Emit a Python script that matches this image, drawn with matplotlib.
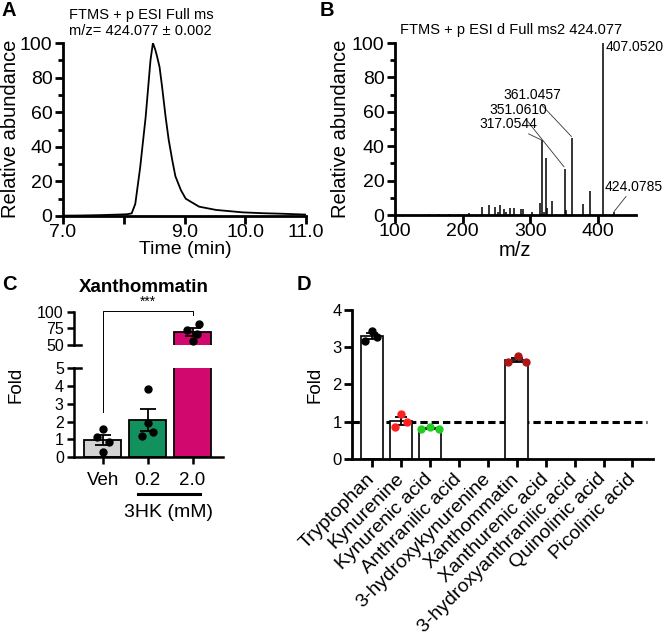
import matplotlib
matplotlib.use('Agg')
import matplotlib.pyplot as plt
import matplotlib.transforms as mtransforms
from matplotlib.lines import Line2D
import numpy as np

plt.rcParams['font.family'] = ['Liberation Sans', 'DejaVu Sans']

W, H = 666, 640

# ---------------- data ----------------
# Panel A: extracted ion chromatogram
time_min = [7.0, 7.3, 7.6, 7.9, 8.05, 8.13, 8.19, 8.27, 8.36, 8.44, 8.48, 8.52,
            8.55, 8.59, 8.63, 8.69, 8.74, 8.80, 8.85, 8.94, 9.02, 9.24, 9.52,
            9.96, 10.3, 10.62, 11.0]
rel_abund_a = [0.2, 0.3, 0.5, 0.8, 1.0, 1.5, 7, 28, 57, 90, 100, 96,
               92, 86, 75, 57, 44, 32, 23, 15, 10, 5.4, 3.5,
               2.1, 1.6, 1.3, 0.8]

# Panel B: MS2 spectrum
mz = [150, 165, 180, 195, 209, 228.6, 238.3, 247.6, 252.0, 255.6, 260.4, 263.3,
      270.6, 275.1, 286.6, 289.6, 302.2, 314.5, 317.0544, 320.4, 322.9, 324.6,
      332.6, 351.0610, 352.6, 361.0457, 378.4, 388.6, 407.0520, 424.0785]
rel_abund_b = [0.4, 0.3, 0.5, 0.4, 1.0, 4.8, 5.8, 4.5, 2.0, 5.8, 3.5, 2.0,
               4.0, 4.0, 3.5, 3.5, 1.5, 7.0, 43.5, 2.0, 33.2, 4.0,
               8.2, 26.7, 3.0, 45.0, 6.2, 13.8, 100.0, 1.5]
peak_labels = ['407.0520', '361.0457', '351.0610', '317.0544', '424.0785']

# Panel C: Xanthommatin fold
c_groups = ['Veh', '0.2', '2.0']
c_veh = [1.6, 1.15, 0.85, 0.3]
c_low = [3.85, 1.9, 1.2, 1.4]
c_high = [82, 73, 67, 56]

# Panel D: kynurenine pathway metabolites
metabolites = ['Tryptophan', 'Kynurenine', 'Kynurenic acid', 'Anthranilic acid',
               '3-hydroxykynurenine', 'Xanthommatin', 'Xanthurenic acid',
               '3-hydroxyanthranilic acid', 'Quinolinic acid', 'Picolinic acid']
d_values = [[3.42, 3.15, 3.27], [1.21, 0.85, 1.0], [0.79, 0.85, 0.80], [], [],
            [2.60, 2.76, 2.60], [], [], [], []]

# ---------------- helpers ----------------
def px_axes(fig, l, t, r, b):
    return fig.add_axes([l / W, 1 - b / H, (r - l) / W, (b - t) / H])

def style(ax, lw=2.0):
    for s in ['top', 'right']:
        ax.spines[s].set_visible(False)
    for s in ['left', 'bottom']:
        ax.spines[s].set_linewidth(lw)
    ax.tick_params(which='major', direction='out', width=lw, length=5.5, pad=2)
    ax.tick_params(which='minor', direction='out', width=lw, length=3.5)

def ftext(x, y, s, **kw):
    fig.text(x / W, 1 - y / H, s, **kw)

def sem(v):
    v = np.asarray(v, float)
    return v.std(ddof=1) / np.sqrt(len(v))

fig = plt.figure(figsize=(W / 100, H / 100), dpi=100)

# ---------------- Panel A ----------------
axA = px_axes(fig, 63, 43, 306, 216)
style(axA)
axA.plot(time_min, rel_abund_a, color='black', lw=1.3)
axA.set_xlim(7, 11)
axA.set_ylim(0, 100)
axA.set_xticks([7, 8, 9, 10, 11])
axA.set_xticklabels(['7.0', '', '9.0', '10.0', '11.0'])
axA.set_yticks([0, 20, 40, 60, 80, 100])
axA.set_yticks(np.arange(10, 100, 20), minor=True)
axA.tick_params(labelsize=14)
axA.tick_params(axis='x', pad=0)
ftext(69, 15, 'FTMS + p ESI Full ms', fontsize=10.5, ha='left', va='center')
ftext(69, 31, 'm/z= 424.077 ± 0.002', fontsize=10.5, ha='left', va='center')
ftext(185, 249, 'Time (min)', fontsize=14, ha='center', va='center')
ftext(11, 129, 'Relative abundance', fontsize=14.5, ha='center', va='center', rotation=90)

# ---------------- Panel B ----------------
axB = px_axes(fig, 395, 43, 636, 215)
style(axB)
axB.vlines(mz, 0, rel_abund_b, color='black', lw=1.1)
axB.set_xlim(100, 456)
axB.set_ylim(0, 100)
axB.set_xticks([100, 200, 300, 400])
axB.set_yticks([0, 20, 40, 60, 80, 100])
axB.set_yticks(np.arange(10, 100, 20), minor=True)
axB.tick_params(labelsize=14)
axB.tick_params(axis='x', pad=0)
ann_kw = dict(fontsize=10, color='black', annotation_clip=False,
              arrowprops=dict(arrowstyle='-', lw=0.6, color='#333333', shrinkA=0, shrinkB=0))
axB.text(410.5, 97.5, peak_labels[0], fontsize=10, ha='left', va='center')
axB.annotate(peak_labels[1], xy=(360.7, 45.6), xytext=(345.5, 69.8), ha='right', va='center', **ann_kw)
axB.annotate(peak_labels[2], xy=(349.7, 28), xytext=(325.2, 61), ha='right', va='center', **ann_kw)
axB.annotate(peak_labels[3], xy=(316.8, 43.5), xytext=(309.8, 52.9), ha='right', va='center', **ann_kw)
axB.annotate(peak_labels[4], xy=(423.6, 2.0), xytext=(409.9, 16.5), ha='left', va='center', **ann_kw)
ftext(511, 30, 'FTMS + p ESI d Full ms2 424.077', fontsize=10.5, ha='center', va='center')
ftext(515, 250, 'm/z', fontsize=14.5, ha='center', va='center')
ftext(341, 129, 'Relative abundance', fontsize=14.5, ha='center', va='center', rotation=90)

# ---------------- Panel C ----------------
c_colors = ['#d3d3d3', '#12915f', '#d1086e']
c_sets = [c_veh, c_low, c_high]
c_jit = [[0, -0.13, 0.14, 0], [0, 0, -0.13, 0.13], [0.14, -0.13, 0.09, 0]]
xs = np.arange(len(c_groups))
means = [np.mean(v) for v in c_sets]
sems = [sem(v) for v in c_sets]

axCl = px_axes(fig, 73.5, 368.3, 222.7, 457)
axCu = px_axes(fig, 73.5, 311.7, 222.7, 345)
for ax in (axCl, axCu):
    style(ax, lw=1.8)
    ax.set_xlim(-0.65, 2.67)
    ax.tick_params(labelsize=11.5, length=5)
    ax.bar(xs, means, width=0.82, color=c_colors, edgecolor='black', lw=1.3, zorder=2)
axCl.set_ylim(0, 5)
axCl.set_yticks([0, 1, 2, 3, 4, 5])
axCl.set_xticks(xs)
axCl.set_xticklabels(c_groups, fontsize=13.5)
axCl.tick_params(axis='x', pad=6)
axCu.set_ylim(50, 100)
axCu.set_yticks([50, 75, 100])
axCu.spines['bottom'].set_visible(False)
axCu.set_xticks([])
for i in range(2):
    axCl.errorbar(xs[i], means[i], yerr=sems[i], color='black', lw=1.3, capsize=5.5, capthick=1.3, zorder=3)
    axCl.plot(xs[i] + np.array(c_jit[i]), c_sets[i], 'o', color='black', ms=5, zorder=4, clip_on=False)
axCu.errorbar(xs[2], means[2], yerr=sems[2], color='black', lw=1.3, capsize=5.5, capthick=1.3, zorder=3)
axCu.plot(xs[2] + np.array(c_jit[2]), c_sets[2], 'o', color='black', ms=5, zorder=4, clip_on=False)
# break markers
bl = mtransforms.blended_transform_factory(axCl.transAxes, axCl.transData)
axCl.plot([0, 0.05], [5, 5], color='black', lw=1.8, transform=bl, clip_on=False)
bu = mtransforms.blended_transform_factory(axCu.transAxes, axCu.transData)
axCu.plot([0, 0.05], [50, 50], color='black', lw=1.8, transform=bu, clip_on=False)

# significance bracket
def to_fig(ax, x, y):
    return fig.transFigure.inverted().transform(ax.transData.transform((x, y)))
p1 = to_fig(axCl, 0, 2.55)
p2 = to_fig(axCu, 0, 100.8)
p3 = to_fig(axCu, 2, 100.8)
p4 = to_fig(axCu, 2, 95.5)
fig.add_artist(Line2D([p1[0], p2[0], p3[0], p4[0]], [p1[1], p2[1], p3[1], p4[1]],
                      transform=fig.transFigure, color='black', lw=0.7))
pm = to_fig(axCu, 1, 100.8)
fig.text(pm[0], pm[1] + 2 / H, '***', fontsize=10, ha='center', va='bottom')

# x group label
bx = mtransforms.blended_transform_factory(axCl.transData, axCl.transAxes)
axCl.plot([0.78, 2.16], [-0.417, -0.417], color='black', lw=2.2, transform=bx, clip_on=False)
axCl.text(1.47, -0.628, '3HK (mM)', fontsize=14, ha='center', va='center', transform=bx)
ftext(144, 287, 'Xanthommatin', fontsize=13.5, fontweight='bold', ha='center', va='center')
ftext(16, 385, 'Fold', fontsize=13.5, ha='center', va='center', rotation=90)

# ---------------- Panel D ----------------
d_colors = ['black', '#ff1f1f', '#22cc22', 'black', 'black', '#b01515',
            'black', 'black', 'black', 'black']
d_jit = [[0, -0.23, 0.17], [0, -0.2, 0.2], [-0.32, 0, 0.32], [], [],
         [-0.3, 0.03, 0.33], [], [], [], []]
axD = px_axes(fig, 352, 309.5, 653.3, 459)
style(axD)
axD.set_xlim(-0.69, 9.72)
axD.set_ylim(0, 4)
xd = np.arange(len(metabolites))
axD.plot([-0.69, 9.5], [1, 1], color='black', lw=2.2, dashes=(2.4, 1.3), zorder=1)
for i, vals in enumerate(d_values):
    if not vals:
        continue
    m = np.mean(vals)
    axD.bar(xd[i], m, width=0.78, color='white', edgecolor='black', lw=1.2, zorder=2)
    axD.errorbar(xd[i], m, yerr=sem(vals), color='black', lw=1.3, capsize=4.5, capthick=1.3, zorder=3)
    axD.plot(xd[i] + np.array(d_jit[i]), vals, 'o', color=d_colors[i], ms=5, zorder=4)
axD.set_yticks([0, 1, 2, 3, 4])
axD.set_xticks(xd)
axD.set_xticklabels(metabolites, rotation=45, ha='right', va='center',
                    rotation_mode='anchor', fontsize=14)
axD.tick_params(axis='y', labelsize=12)
axD.tick_params(axis='x', pad=7)
ftext(315, 385, 'Fold', fontsize=13.5, ha='center', va='center', rotation=90)

# panel letters
for lx, ly, s in [(1, 10, 'A'), (320, 10, 'B'), (2, 284, 'C'), (297, 284, 'D')]:
    ftext(lx, ly, s, fontsize=14.5, fontweight='bold', ha='left', va='center')

fig.savefig('out.png', dpi=100)
